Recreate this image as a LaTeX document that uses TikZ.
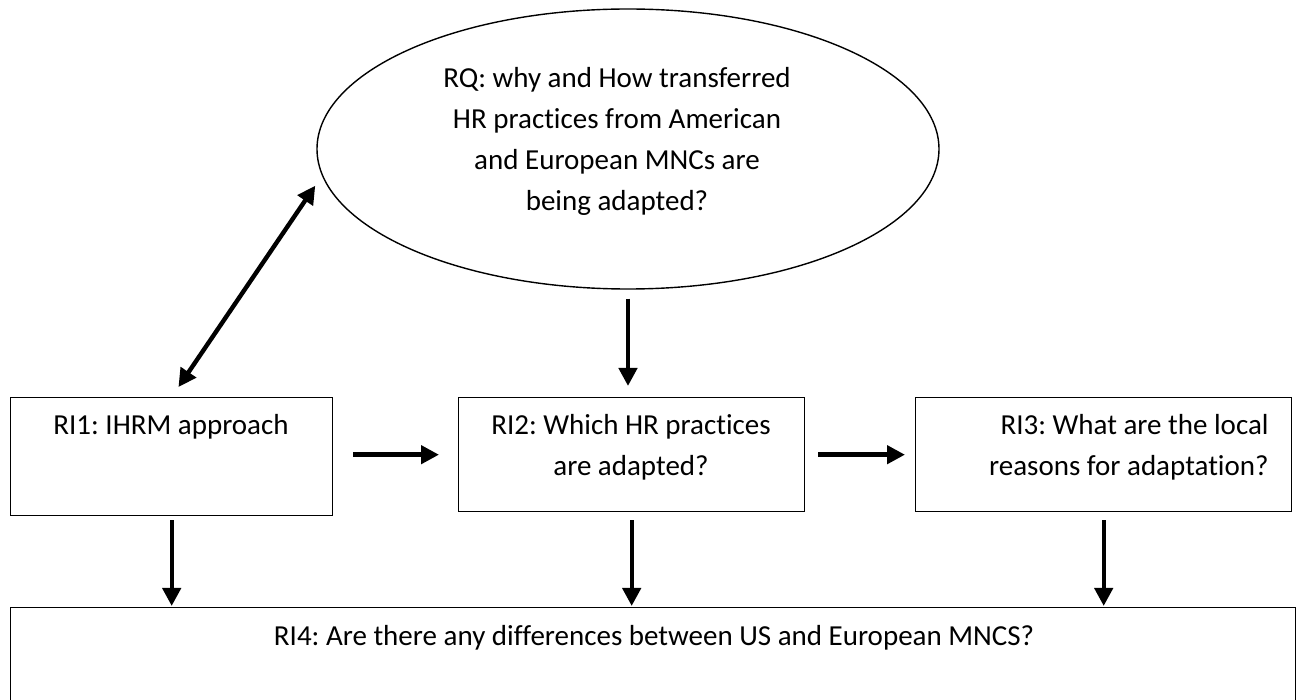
\documentclass[tikz,border=0pt]{standalone}
\usepackage{fontspec}
\setmainfont{Carlito}[Ligatures=NoCommon]
\usetikzlibrary{arrows.meta,shapes.geometric,calc}
\frenchspacing
\begin{document}
\begin{tikzpicture}[x=0.5pt,y=-0.5pt,
  box/.style={draw=black, line width=0.7pt, inner sep=0pt, anchor=north west},
  txt/.style={font=\fontsize{14.5pt}{20.5pt}\selectfont, inner sep=0pt},
  arr/.style={line width=2.2pt, -{Triangle[length=9pt,width=9pt]}},
  dbl/.style={line width=2.2pt, {Triangle[length=9pt,width=9pt]}-{Triangle[length=9pt,width=9pt]}}]
\useasboundingbox (0,0) rectangle (1298,700);
\clip (0,0) rectangle (1298,700);
% shapes
\node[draw=black, ellipse, line width=0.7pt, minimum width=311pt, minimum height=140pt, inner sep=0pt] (rq) at (628,149) {};
\node[box, minimum width=161pt, minimum height=59pt] (ri1) at (10,397) {};
\node[box, minimum width=173pt, minimum height=57pt] (ri2) at (458,397) {};
\node[box, minimum width=188pt, minimum height=57pt] (ri3) at (915,397) {};
\node[box, minimum width=642.5pt, minimum height=60pt] (ri4) at (10,607) {};
% texts
\node[txt, align=center] (rqt) at (617,141.5) {RQ: why and How transferred\\HR practices from American\\and European MNCs are\\being adapted?};
\node[txt] (ri1t) at (171,427) {RI1: IHRM approach};
\node[txt, align=center] (ri2t) at (631,447.5) {RI2: Which HR practices\\are adapted?};
\node[txt, align=right, anchor=east] (ri3t) at (1269,447.5) {RI3: What are the local\\reasons for adaptation?};
\node[txt] (ri4t) at (654,638) {RI4: Are there any differences between US and European MNCS?};
% connectors
\draw[dbl, shorten <=6pt, shorten >=6pt] (ri1.north) -- (rq.185.5);
\draw[arr, shorten <=4.5pt, shorten >=5.5pt] (rq.south) -- (rq.south |- ri2.north);
\draw[arr, shorten <=10pt, shorten >=9.5pt] (ri2.west -| ri1.east) -- (ri2.west);
\draw[arr, shorten <=6.5pt, shorten >=5pt] (ri2.east) -- (ri3.west);
\draw[arr, shorten <=2pt, shorten >=0.5pt] (ri1.south) -- (ri1.south |- ri4.north);
\draw[arr, shorten <=4pt, shorten >=0.5pt] (ri2.south) -- (ri2.south |- ri4.north);
\draw[arr, shorten <=4pt, shorten >=0.5pt] (ri3.south) -- (ri3.south |- ri4.north);
\end{tikzpicture}
\end{document}
